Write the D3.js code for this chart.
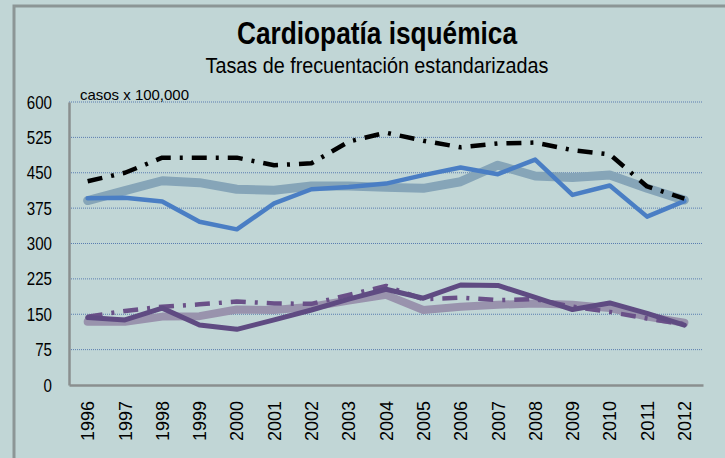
<!DOCTYPE html>
<html lang="es">
<head>
<meta charset="utf-8">
<script src="https://cdn.jsdelivr.net/npm/d3@7"></script>
<style>
  body { margin: 0; background: #c1d6d6; }
  svg text { font-family: "Liberation Sans", Arial, sans-serif; fill: #000; }
</style>
</head>
<body>
<script>
// datos
var years = ["1996","1997","1998","1999","2000","2001","2002","2003","2004","2005","2006","2007","2008","2009","2010","2011","2012"];
var yTicks = [0, 75, 150, 225, 300, 375, 450, 525, 600];

var upperGray = [391, 412, 433, 429, 415, 413, 422, 422, 419, 417, 431, 466, 443, 440, 445, 417, 392];
var upperBlue = [396, 397, 389, 346, 330, 385, 415, 420, 427, 445, 461, 447, 478, 403, 423, 357, 390];
var upperDash = [432, 450, 482, 482, 482, 466, 470, 516, 535, 518, 504, 512, 514, 498, 489, 421, 395];

var lowerGray = [134, 134, 145, 146, 160, 159, 166, 179, 191, 159, 166, 170, 173, 170, 163, 145, 132];
var lowerDash = [145, 157, 166, 171, 177, 173, 172, 191, 210, 182, 185, 180, 182, 166, 155, 141, 129];
var lowerSolid = [143, 138, 163, 127, 118, 138, 159, 182, 203, 184, 212, 211, 186, 160, 174, 152, 127];

var w = 725, h = 458;
var mLeft = 69, mRight = 703, mTop = 102, mBottom = 385;

var svg = d3.select("body").append("svg")
    .attr("width", w)
    .attr("height", h);

// marco del grafico
svg.append("rect")
    .attr("x", 14).attr("y", 6)
    .attr("width", w + 20).attr("height", h + 20)
    .attr("fill", "#c1d6d6")
    .attr("stroke", "#8c9696")
    .attr("stroke-width", 3);

var x = d3.scaleBand().domain(years).range([mLeft, mRight]);
var y = d3.scaleLinear().domain([0, 600]).range([mBottom, mTop]);

// lineas de la rejilla
svg.append("g").selectAll("line")
    .data(yTicks.filter(function(d) { return d > 0; }))
    .enter().append("line")
    .attr("x1", mLeft).attr("x2", mRight)
    .attr("y1", function(d) { return y(d); })
    .attr("y2", function(d) { return y(d); })
    .attr("stroke", "#5a7db0")
    .attr("stroke-width", 1)
    .attr("stroke-dasharray", "1,1");

// ejes (texto estrecho como en el original)
var yAxis = svg.append("g")
    .attr("transform", "translate(" + mLeft + ",0)")
    .call(d3.axisLeft(y).tickValues(yTicks).tickSize(0).tickSizeOuter(0).tickPadding(17));
yAxis.select(".domain").attr("stroke", "#8a8f8f").attr("stroke-width", 2.5);
yAxis.selectAll("text")
    .style("font-size", "19px")
    .attr("textLength", function(d) { return String(d).length * 8.4; })
    .attr("lengthAdjust", "spacingAndGlyphs");

var xAxis = svg.append("g")
    .attr("transform", "translate(0," + mBottom + ")")
    .call(d3.axisBottom(x).tickSize(0).tickSizeOuter(0).tickPadding(0));
xAxis.select(".domain").attr("stroke", "#8a8f8f").attr("stroke-width", 2.5);
xAxis.selectAll("text")
    .style("font-size", "19px")
    .attr("text-anchor", "end")
    .attr("transform", "rotate(-90)")
    .attr("x", -16)
    .attr("y", 0)
    .attr("dy", "0.35em")
    .attr("textLength", 40)
    .attr("lengthAdjust", "spacingAndGlyphs");

var line = d3.line()
    .x(function(d, i) { return x(years[i]) + x.bandwidth() / 2; })
    .y(function(d) { return y(d); });

function drawLine(data, colour, width, dash, cap) {
  svg.append("path")
      .datum(data)
      .attr("fill", "none")
      .attr("stroke", colour)
      .attr("stroke-width", width)
      .attr("stroke-linejoin", "round")
      .attr("stroke-linecap", cap || "round")
      .attr("stroke-dasharray", dash || null)
      .attr("d", line);
}

drawLine(upperGray, "#86a5b8", 9);
drawLine(upperBlue, "#4a7ec4", 4.5);
drawLine(upperDash, "#000000", 4.5, "15,9,3,9", "butt");

drawLine(lowerGray, "#9993ad", 8);
drawLine(lowerDash, "#6a5088", 4.5, "15,9,3,9", "butt");
drawLine(lowerSolid, "#5f4b82", 5);

// titulos
svg.append("text")
    .attr("x", 377).attr("y", 44)
    .attr("text-anchor", "middle")
    .style("font-size", "32px")
    .style("font-weight", "bold")
    .attr("textLength", 280)
    .attr("lengthAdjust", "spacingAndGlyphs")
    .text("Cardiopatía isquémica");

svg.append("text")
    .attr("x", 377).attr("y", 73)
    .attr("text-anchor", "middle")
    .style("font-size", "22px")
    .attr("textLength", 343)
    .attr("lengthAdjust", "spacingAndGlyphs")
    .text("Tasas de frecuentación estandarizadas");

svg.append("text")
    .attr("x", 80).attr("y", 100)
    .style("font-size", "15px")
    .attr("textLength", 109)
    .attr("lengthAdjust", "spacingAndGlyphs")
    .text("casos x 100,000");
</script>
</body>
</html>
